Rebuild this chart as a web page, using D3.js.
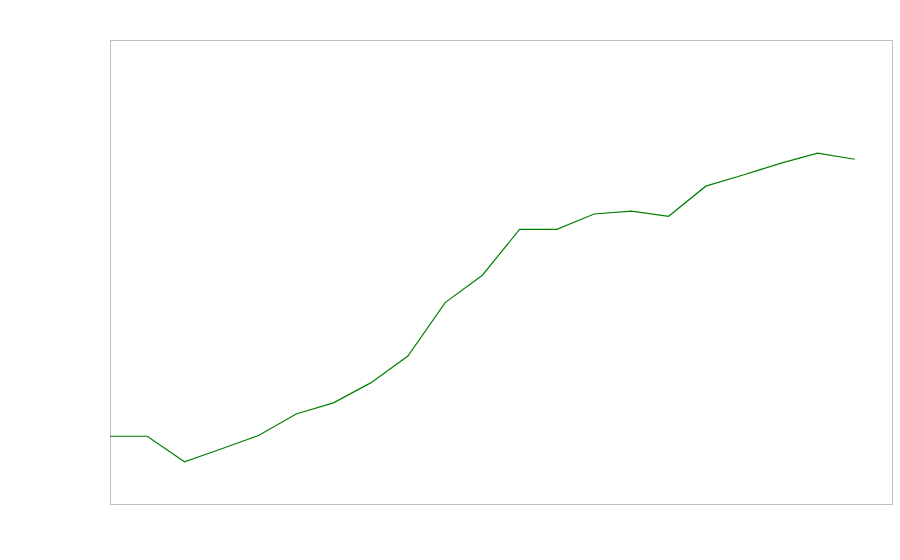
<!DOCTYPE html>
<html>
<head>
<meta charset="utf-8">
<script src="https://cdn.jsdelivr.net/npm/d3@7"></script>
<style>
  body { margin: 0; background: #fff; }
</style>
</head>
<body>
<svg width="900" height="560"></svg>
<script>
// index positions along the x axis, and the series values
var steps = d3.range(21);
var values = [14.6, 14.6, 9.1, 11.9, 14.8, 19.4, 21.8, 26.1, 31.9, 43.4, 49.3,
              59.2, 59.2, 62.5, 63.1, 62.0, 68.5, 70.9, 73.4, 75.6, 74.3];

var svg = d3.select("svg"),
    margin = {top: 40, right: 8, bottom: 56, left: 110},
    width = +svg.attr("width") - margin.left - margin.right,
    height = +svg.attr("height") - margin.top - margin.bottom;

var g = svg.append("g")
    .attr("transform", "translate(" + margin.left + "," + margin.top + ")");

var x = d3.scaleLinear().domain([0, 21]).range([0, width]);
var y = d3.scaleLinear().domain([0, 100]).range([height, 0]);

g.append("rect")
    .attr("x", 0.5)
    .attr("y", 0.5)
    .attr("width", width)
    .attr("height", height)
    .attr("fill", "none")
    .attr("stroke", "#c0c0c0");

var line = d3.line()
    .x(function (d, i) { return x(steps[i]); })
    .y(function (d) { return y(d); });

g.append("path")
    .datum(values)
    .attr("d", line)
    .attr("fill", "none")
    .attr("stroke", "green")
    .attr("stroke-width", 1.2);
</script>
</body>
</html>
